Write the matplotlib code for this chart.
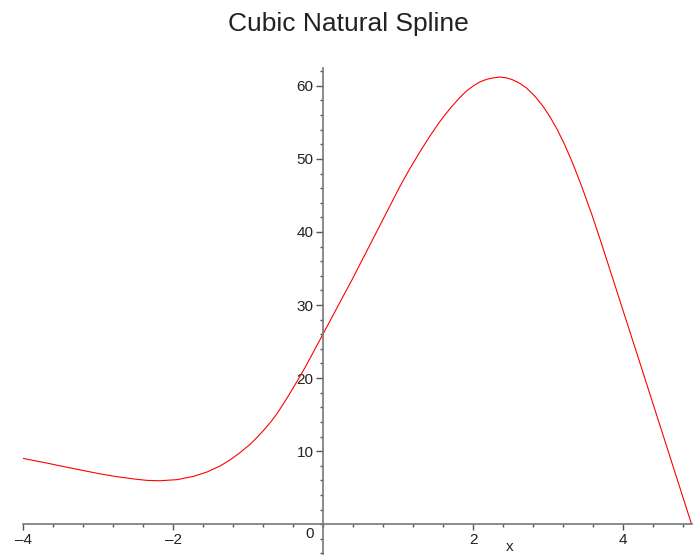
import matplotlib
matplotlib.use("Agg")
import matplotlib.pyplot as plt
from matplotlib.ticker import MultipleLocator, FixedLocator

# points
x_vals = [-4.0, -3.7, -3.42, -2.98, -2.75, -2.53, -2.35, -2.18, -1.95, -1.73,
          -1.55, -1.38, -1.25, -1.11, -0.98, -0.9, -0.8, -0.7, -0.62, -0.53,
          -0.44, -0.33, -0.24, -0.12, 0.0, 0.13, 0.27, 0.38, 0.49, 0.62,
          0.76, 0.89, 1.02, 1.15, 1.29, 1.42, 1.56, 1.69, 1.82, 1.91,
          2.0, 2.09, 2.18, 2.27, 2.36, 2.44, 2.52, 2.62, 2.71, 2.82,
          2.93, 3.02, 3.12, 3.22, 3.33, 3.45, 3.58, 3.7, 3.81, 3.97,
          4.13, 4.33, 4.53, 4.72, 4.91]
y_vals = [9.0, 8.4, 7.8, 6.9, 6.5, 6.2, 6.0, 5.95, 6.1, 6.55,
          7.15, 7.95, 8.75, 9.8, 10.9, 11.7, 12.8, 14.0, 15.1, 16.5,
          18.0, 19.9, 21.5, 23.8, 26.1, 28.6, 31.3, 33.4, 35.6, 38.2,
          41.0, 43.6, 46.2, 48.6, 51.0, 53.1, 55.2, 56.9, 58.4, 59.3,
          60.0, 60.55, 60.9, 61.1, 61.2, 61.1, 60.85, 60.35, 59.7, 58.6,
          57.2, 55.8, 54.0, 51.9, 49.3, 46.1, 42.4, 38.7, 35.2, 30.1,
          25.0, 18.6, 12.2, 6.1, 0.0]

x_major = [-4, -2, 2, 4]
x_labels = ["\u20134", "\u20132", "2", "4"]
y_major = [10, 20, 30, 40, 50, 60]

plt.rcParams["font.family"] = ["Liberation Sans", "DejaVu Sans"]

fig = plt.figure(figsize=(6.93, 5.60), dpi=100)
ax = fig.add_axes([0.0336, 0.0104, 0.9654, 0.8676])
ax.plot(x_vals, y_vals, color="#ff0000", lw=0.8)

ax.set_xlim(-4.0, 4.92)
ax.set_ylim(-4.1, 62.4)

for side in ("top", "right"):
    ax.spines[side].set_visible(False)
ax.spines["left"].set_position(("data", 0))
ax.spines["bottom"].set_position(("data", 0))
for side in ("left", "bottom"):
    ax.spines[side].set_color("#777777")
    ax.spines[side].set_linewidth(1.2)

ax.xaxis.set_major_locator(FixedLocator(x_major))
ax.set_xticklabels(x_labels)
ax.xaxis.set_minor_locator(MultipleLocator(0.4))
ax.yaxis.set_major_locator(FixedLocator(y_major))
ax.yaxis.set_minor_locator(MultipleLocator(2))

ax.tick_params(which="major", direction="out", color="#555555", labelsize=11,
               labelcolor="#222222", width=1)
ax.tick_params(axis="x", which="major", length=4, pad=2)
ax.tick_params(axis="y", which="major", length=5, pad=2)
ax.tick_params(which="minor", direction="out", color="#555555", length=2.5, width=1)

ax.text(-0.12, -0.4, "0", ha="right", va="top", fontsize=11, color="#222222")
ax.text(2.49, -3.15, "x", ha="center", va="center", fontsize=11, color="#222222")

fig.text(0.503, 0.957, "Cubic Natural Spline", ha="center", va="center",
         fontsize=19, color="#222222")

fig.savefig("out.png", dpi=100)
